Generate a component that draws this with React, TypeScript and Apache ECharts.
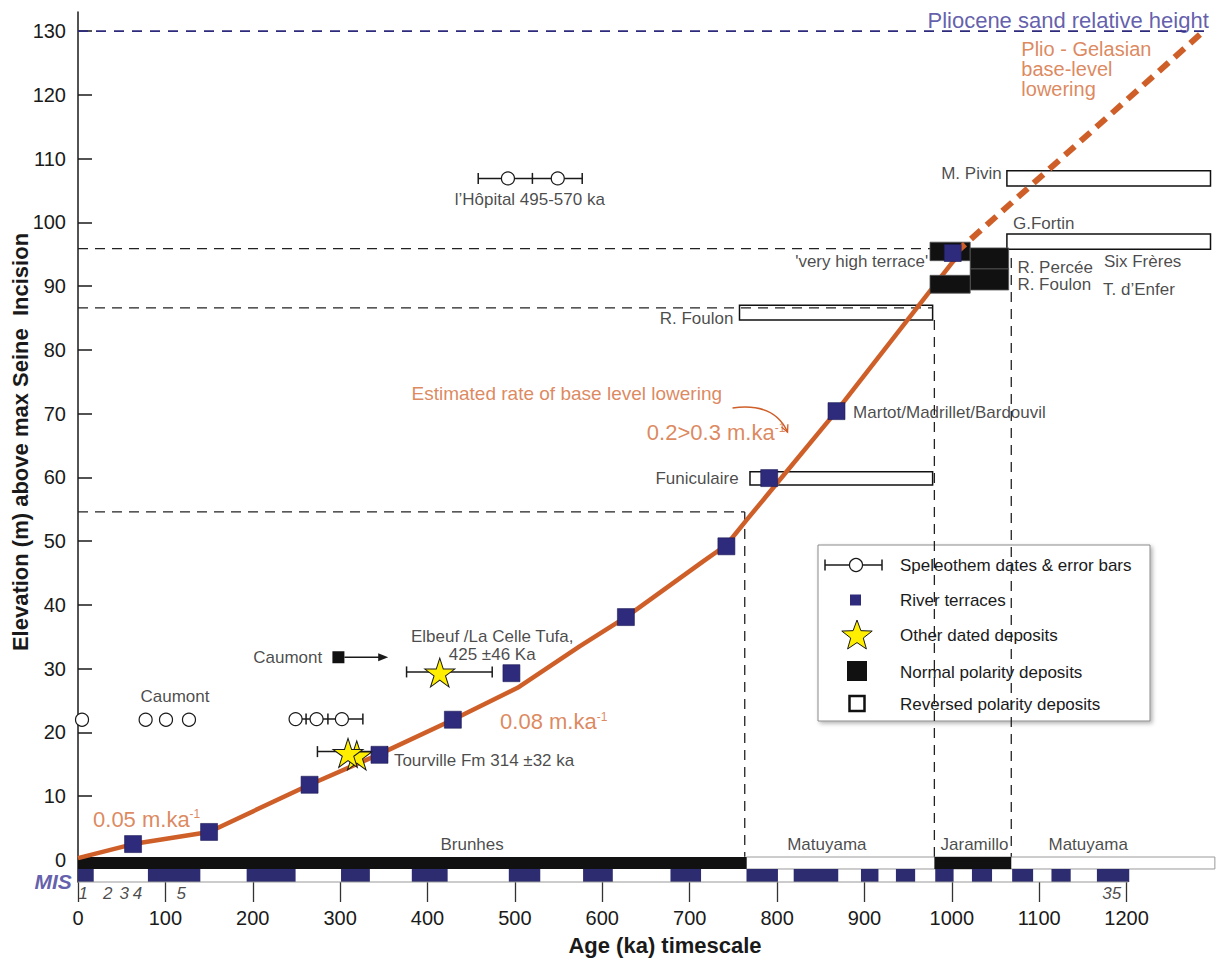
import React, { useEffect, useRef } from 'react';
import * as echarts from 'echarts';

const FONT = '"Liberation Sans", Arial, Helvetica, sans-serif';
const ORANGE = '#cf5f29';
const ORANGE_TEXT = '#d46a36';
const NAVY = '#2e2a7c';
const NAVY_TEXT = '#3b3696';
const INK = '#1a1a1a';

const xTickValues = [0, 100, 200, 300, 400, 500, 600, 700, 800, 900, 1000, 1100, 1200];
const yTickValues = [0, 10, 20, 30, 40, 50, 60, 70, 80, 90, 100, 110, 120, 130];

// River terraces (age ka, elevation m)
const terraceAge = [63, 150, 265, 345, 429, 496, 627, 742, 791, 868, 1001];
const terraceElev = [2.5, 4.4, 11.8, 16.5, 22.0, 29.3, 38.1, 49.2, 59.9, 70.4, 95.2];

// Estimated base-level lowering curve
const rateLineAge = [0, 63, 150, 265, 345, 429, 503, 574, 627, 715, 742, 765, 868, 1001, 1006];
const rateLineElev = [0.3, 2.5, 4.4, 11.8, 16.6, 22.0, 27.0, 33.5, 38.1, 46.8, 49.4, 53.3, 70.4, 93.8, 94.6];

// Plio-Gelasian lowering (dashed)
const plioLineAge = [1004, 1285];
const plioLineElev = [95.2, 129.6];

// Pliocene sand relative height
const pliocenePlaneAge = [0, 1290];
const pliocenePlaneElev = [130, 130];

// Speleothem dates
const speleoAge = [4.6, 77.4, 100.7, 127, 249, 273, 302, 492, 549];
const speleoElev = [22, 22, 22, 22, 22.1, 22.1, 22.1, 106.9, 106.9];
// error bars [from, to, elevation]
const speleoBars = [[249, 326, 22.1], [458, 577, 106.9]];
const speleoInnerTicks = [[261, 22.1], [286, 22.1], [520, 106.9]];

// Other dated deposits (stars)
const starAge = [319, 309, 414];
const starElev = [16.4, 16.8, 29.4];
const starBars = [[274, 354, 17.0], [376, 474, 29.5]];

// Caumont normal polarity deposit + arrow
const caumontAge = [298];
const caumontElev = [31.8];
const caumontArrow = [[298, 355, 31.8]];

// Polarity deposits boxes [age0, age1, elev0, elev1]
const reversedBoxes = [
  [757, 978, 84.7, 87.0],
  [769, 978, 58.8, 60.9],
  [1063, 1296, 105.7, 108.1],
  [1063, 1296, 95.8, 98.2],
];
const normalBoxes = [
  [975, 1021, 94.0, 96.9],
  [1021, 1065, 92.7, 96.0],
  [1021, 1065, 89.4, 92.7],
  [975, 1021, 88.9, 91.7],
];

// dashed guide lines [x1, y1, x2, y2]
const guideSegments = [
  [0, 95.9, 975, 95.9],
  [0, 86.6, 978, 86.6],
  [0, 54.6, 763, 54.6],
  [763, 54.6, 763, 0.5],
  [980, 84.7, 980, 0.5],
  [1068, 94.4, 1068, 0.5],
];

// Palaeomagnetic chrons
const normalChrons = [[0, 765], [980, 1068]];
const reversedChrons = [[765, 1301]];
const chronTop = 0.47;
const chronBottom = -1.41;
const chronLabels = [['Brunhes', 451, 2.4], ['Matuyama', 857, 2.4], ['Jaramillo', 1026, 2.4], ['Matuyama', 1156, 2.4]];

// Marine isotope stages (interglacials)
const misStart = [0, 80, 193, 301, 382, 493, 578, 678, 765, 819, 896, 936, 981, 1023, 1069, 1114, 1166];
const misEnd = [18, 140, 249, 334, 423, 529, 612, 713, 801, 870, 916, 958, 1002, 1046, 1093, 1136, 1203];
const misTop = -1.41;
const misBottom = -3.45;
const misLabels = [['1', 6, -5.2], ['2', 34, -5.2], ['3', 53, -5.2], ['4', 68, -5.2], ['5', 118, -5.2], ['35', 1183, -5.2]];

// Annotations [text, age, elev, align]
const blackLabels = [
  ['l’Hôpital 495-570 ka', 517, 103.6, 'center'],
  ['Elbeuf /La Celle Tufa,\n425 ±46 Ka', 474, 33.6, 'center'],
  ['Caumont', 279.5, 31.8, 'right'],
  ['Caumont', 111, 25.6, 'center'],
  ['Tourville Fm 314 ±32 ka', 361.5, 15.6, 'left'],
  ['Martot/Madrillet/Bardouvil', 887, 70.2, 'left'],
  ['Funiculaire', 756, 59.9, 'right'],
  ['R. Foulon', 750, 84.9, 'right'],
  ['M. Pivin', 1057, 107.7, 'right'],
  ['G.Fortin', 1070, 99.8, 'left'],
  ["'very high terrace'", 973, 93.8, 'right'],
  ['R. Percée', 1075, 93.0, 'left'],
  ['R. Foulon', 1075, 90.2, 'left'],
  ['Six Frères', 1174, 93.8, 'left'],
  ['T. d’Enfer', 1173, 89.4, 'left'],
];
const rateLabels = [
  ['0.05 m.ka{s|-1}', 17.2, 6.4, 'left'],
  ['0.08 m.ka{s|-1}', 483, 21.7, 'left'],
  ['0.2>0.3 m.ka{s|-1}', 651, 67.0, 'left'],
];
const estimatedLabel = [['Estimated rate of base level lowering', 737, 73.1, 'right']];
const plioLabel = [['Plio - Gelasian\nbase-level\nlowering', 1079.5, 124.0, 'left']];
const plioceneLabel = [['Pliocene sand relative height', 1294, 131.6, 'right']];
const misTitle = [['MIS', -7, -3.3, 'right']];
const curveArrow = [[749, 70.9, 797, 71.8, 812, 67.1]];

const STAR = 'path://M50 0 L61.2 34.5 L97.6 34.5 L68.2 55.9 L79.4 90.5 L50 69.1 L20.6 90.5 L31.8 55.9 L2.4 34.5 L38.8 34.5 Z';

function textLayer(name: string, items: any[][], style: any, z = 20) {
  return {
    type: 'scatter', name, silent: true, clip: false, z,
    symbolSize: 0, itemStyle: { color: 'rgba(0,0,0,0)' },
    data: items.map((it) => ({ value: [it[1], it[2]], label: { formatter: it[0], align: it[3] || 'center' } })),
    label: { show: true, position: 'inside', verticalAlign: 'middle', fontFamily: FONT, ...style },
    emphasis: { disabled: true },
  };
}

function rectLayer(name: string, boxes: number[][], style: any, z: number) {
  return {
    type: 'custom', name, silent: true, z, clip: false,
    data: boxes,
    encode: { x: [0, 1], y: [2, 3] },
    renderItem: (_p: any, api: any) => {
      const a = api.coord([api.value(0), api.value(3)]);
      const b = api.coord([api.value(1), api.value(2)]);
      return { type: 'rect', shape: { x: a[0], y: a[1], width: b[0] - a[0], height: b[1] - a[1] }, style };
    },
  };
}

function segLayer(name: string, segs: number[][], style: any, z: number) {
  return {
    type: 'custom', name, silent: true, z, clip: false,
    data: segs,
    encode: { x: [0, 2], y: [1, 3] },
    renderItem: (_p: any, api: any) => {
      const a = api.coord([api.value(0), api.value(1)]);
      const b = api.coord([api.value(2), api.value(3)]);
      return { type: 'line', shape: { x1: a[0], y1: a[1], x2: b[0], y2: b[1] }, style };
    },
  };
}

function errorBarLayer(name: string, bars: number[][], z: number) {
  const st = { stroke: INK, lineWidth: 1.5 };
  return {
    type: 'custom', name, silent: true, z, clip: false,
    data: bars,
    encode: { x: [0, 1], y: 2 },
    renderItem: (_p: any, api: any) => {
      const a = api.coord([api.value(0), api.value(2)]);
      const b = api.coord([api.value(1), api.value(2)]);
      const h = 5.5;
      return {
        type: 'group', children: [
          { type: 'line', shape: { x1: a[0], y1: a[1], x2: b[0], y2: b[1] }, style: st },
          { type: 'line', shape: { x1: a[0], y1: a[1] - h, x2: a[0], y2: a[1] + h }, style: st },
          { type: 'line', shape: { x1: b[0], y1: b[1] - h, x2: b[0], y2: b[1] + h }, style: st },
        ],
      };
    },
  };
}

function starPoints(cx: number, cy: number, R: number, r: number) {
  const pts: number[][] = [];
  for (let i = 0; i < 10; i++) {
    const ang = -Math.PI / 2 + (i * Math.PI) / 5;
    const rad = i % 2 === 0 ? R : r;
    pts.push([cx + rad * Math.cos(ang), cy + rad * Math.sin(ang)]);
  }
  return pts;
}

const legendItems = [
  'Speleothem dates & error bars',
  'River terraces',
  'Other dated deposits',
  'Normal polarity deposits',
  'Reversed polarity deposits',
];

function buildOption() {
  const legendBox = { x: 818, y: 545, w: 332, h: 176 };
  const rowY = [565, 600, 635, 672, 704];
  const legend = {
    type: 'group', silent: true, z: 50,
    children: [
      { type: 'rect', shape: { x: legendBox.x, y: legendBox.y, width: legendBox.w, height: legendBox.h },
        style: { fill: '#fff', stroke: '#8a8a8a', lineWidth: 1, shadowBlur: 4, shadowOffsetX: 2, shadowOffsetY: 2, shadowColor: 'rgba(0,0,0,0.3)' } },
      { type: 'line', shape: { x1: 825, y1: rowY[0], x2: 882, y2: rowY[0] }, style: { stroke: INK, lineWidth: 1.5 } },
      { type: 'line', shape: { x1: 825, y1: rowY[0] - 5.5, x2: 825, y2: rowY[0] + 5.5 }, style: { stroke: INK, lineWidth: 1.5 } },
      { type: 'line', shape: { x1: 882, y1: rowY[0] - 5.5, x2: 882, y2: rowY[0] + 5.5 }, style: { stroke: INK, lineWidth: 1.5 } },
      { type: 'circle', shape: { cx: 856, cy: rowY[0], r: 6.5 }, style: { fill: '#fff', stroke: INK, lineWidth: 1.2 } },
      { type: 'rect', shape: { x: 850, y: rowY[1] - 5.5, width: 11, height: 11 }, style: { fill: NAVY } },
      { type: 'polygon', shape: { points: starPoints(857, rowY[2] + 1, 16, 6.6) }, style: { fill: '#ffee00', stroke: INK, lineWidth: 1 } },
      { type: 'rect', shape: { x: 847, y: rowY[3] - 11, width: 20, height: 20 }, style: { fill: '#111' } },
      { type: 'rect', shape: { x: 849.5, y: rowY[4] - 8, width: 15, height: 15 }, style: { fill: '#fff', stroke: '#111', lineWidth: 2.5 } },
      ...legendItems.map((t, i) => ({
        type: 'text', x: 900, y: rowY[i],
        style: { text: t, fill: INK, font: `17px ${FONT}`, textAlign: 'left', textVerticalAlign: 'middle' },
      })),
    ],
  };

  return {
    animation: false,
    backgroundColor: '#fff',
    grid: { left: 78, right: 3, top: 12, bottom: 81, containLabel: false, outerBoundsMode: 'none' },
    xAxis: {
      type: 'value', min: 0, max: 1300,
      axisLine: { show: false, onZero: false },
      axisTick: { show: true, customValues: xTickValues, length: 20, lineStyle: { color: '#333', width: 1.3 } },
      axisLabel: { customValues: xTickValues, fontSize: 20, color: INK, margin: 26, fontFamily: FONT, formatter: (v: number) => String(v) },
      splitLine: { show: false },
    },
    yAxis: {
      type: 'value', min: -3.45, max: 133,
      axisLine: { show: true, onZero: false, lineStyle: { color: INK, width: 1.5 } },
      axisTick: { show: true, inside: true, customValues: yTickValues, length: 14, lineStyle: { color: INK, width: 1.5 } },
      axisLabel: { customValues: yTickValues, fontSize: 20, color: INK, margin: 12, fontFamily: FONT, formatter: (v: number) => String(v) },
      splitLine: { show: false },
    },
    series: [
      rectLayer('reversedChrons', reversedChrons.map((c) => [c[0], c[1], chronBottom, chronTop]), { fill: '#fff', stroke: '#9a9a9a', lineWidth: 1 }, 1),
      rectLayer('normalChrons', normalChrons.map((c) => [c[0], c[1], chronBottom, chronTop]), { fill: '#111' }, 2),
      rectLayer('mis', misStart.map((s, i) => [s, misEnd[i], misBottom, misTop]), { fill: '#2d2c70' }, 2),
      segLayer('misBase', [[0, misBottom, 1202, misBottom]], { stroke: '#999', lineWidth: 1 }, 2),
      rectLayer('reversedBoxes', reversedBoxes, { fill: '#fff', stroke: '#111', lineWidth: 1.5 }, 2),
      segLayer('guides', guideSegments, { stroke: '#222', lineWidth: 1.3, lineDash: [10, 7] }, 3),
      {
        type: 'line', name: 'pliocene', silent: true, z: 3, symbol: 'none',
        data: pliocenePlaneAge.map((a, i) => [a, pliocenePlaneElev[i]]),
        lineStyle: { color: NAVY, width: 1.6, type: [10, 8] },
      },
      {
        type: 'line', name: 'rate', silent: true, z: 4, symbol: 'none', smooth: false,
        data: rateLineAge.map((a, i) => [a, rateLineElev[i]]),
        lineStyle: { color: ORANGE, width: 4.5 },
      },
      rectLayer('normalBoxes', normalBoxes, { fill: '#111', stroke: '#555', lineWidth: 0.8 }, 5),
      {
        type: 'line', name: 'plio', silent: true, z: 6, symbol: 'none',
        data: plioLineAge.map((a, i) => [a, plioLineElev[i]]),
        lineStyle: { color: ORANGE, width: 6, type: [13, 8], cap: 'butt' },
      },
      errorBarLayer('speleoBars', speleoBars, 7),
      errorBarLayer('starBars', starBars, 7),
      {
        type: 'custom', name: 'innerTicks', silent: true, z: 7, clip: false,
        data: speleoInnerTicks, encode: { x: 0, y: 1 },
        renderItem: (_p: any, api: any) => {
          const a = api.coord([api.value(0), api.value(1)]);
          return { type: 'line', shape: { x1: a[0], y1: a[1] - 5.5, x2: a[0], y2: a[1] + 5.5 }, style: { stroke: INK, lineWidth: 1.5 } };
        },
      },
      {
        type: 'custom', name: 'caumontArrow', silent: true, z: 7, clip: false,
        data: caumontArrow, encode: { x: [0, 1], y: 2 },
        renderItem: (_p: any, api: any) => {
          const a = api.coord([api.value(0), api.value(2)]);
          const b = api.coord([api.value(1), api.value(2)]);
          return {
            type: 'group', children: [
              { type: 'line', shape: { x1: a[0] + 6, y1: a[1], x2: b[0] - 8, y2: b[1] }, style: { stroke: INK, lineWidth: 1.5 } },
              { type: 'polygon', shape: { points: [[b[0], b[1]], [b[0] - 10, b[1] - 4], [b[0] - 10, b[1] + 4]] }, style: { fill: INK } },
            ],
          };
        },
      },
      {
        type: 'custom', name: 'curveArrow', silent: true, z: 7, clip: false,
        data: curveArrow, encode: { x: [0, 2, 4], y: [1, 3, 5] },
        renderItem: (_p: any, api: any) => {
          const s = api.coord([api.value(0), api.value(1)]);
          const c = api.coord([api.value(2), api.value(3)]);
          const e = api.coord([api.value(4), api.value(5)]);
          const dx = e[0] - c[0];
          const dy = e[1] - c[1];
          const len = Math.sqrt(dx * dx + dy * dy);
          const ux = dx / len;
          const uy = dy / len;
          const rot = (ang: number) => [ux * Math.cos(ang) - uy * Math.sin(ang), ux * Math.sin(ang) + uy * Math.cos(ang)];
          const l = rot(0.45);
          const r = rot(-0.45);
          return {
            type: 'group', children: [
              { type: 'bezierCurve', shape: { x1: s[0], y1: s[1], cpx1: c[0], cpy1: c[1], x2: e[0], y2: e[1] }, style: { stroke: ORANGE, lineWidth: 1.5, fill: null } },
              { type: 'polyline', shape: { points: [[e[0] - l[0] * 8, e[1] - l[1] * 8], [e[0], e[1]], [e[0] - r[0] * 8, e[1] - r[1] * 8]] }, style: { stroke: ORANGE, lineWidth: 1.3, fill: null } },
            ],
          };
        },
      },
      {
        type: 'scatter', name: 'River terraces', silent: true, z: 8, symbol: 'rect', symbolSize: 17,
        data: terraceAge.map((a, i) => [a, terraceElev[i]]),
        itemStyle: { color: NAVY, borderColor: '#1d1b55', borderWidth: 0.6, opacity: 1 },
      },
      {
        type: 'scatter', name: 'Speleothem', silent: true, z: 8, symbol: 'circle', symbolSize: 13,
        data: speleoAge.map((a, i) => [a, speleoElev[i]]),
        itemStyle: { color: '#fff', borderColor: INK, borderWidth: 1.2, opacity: 1 },
      },
      {
        type: 'scatter', name: 'Other dated deposits', silent: true, z: 8, symbol: STAR, symbolSize: [30, 29],
        data: starAge.map((a, i) => [a, starElev[i]]),
        itemStyle: { color: '#ffee00', borderColor: INK, borderWidth: 1, opacity: 1 },
      },
      {
        type: 'scatter', name: 'Caumont normal', silent: true, z: 8, symbol: 'rect', symbolSize: 12,
        data: caumontAge.map((a, i) => [a, caumontElev[i]]),
        itemStyle: { color: '#111', opacity: 1 },
      },
      textLayer('blackLabels', blackLabels, { fontSize: 17, color: INK, lineHeight: 18 }),
      textLayer('chronLabels', chronLabels, { fontSize: 17, color: INK }),
      textLayer('misLabels', misLabels, { fontSize: 17, color: INK, fontStyle: 'italic' }),
      textLayer('misTitle', misTitle, { fontSize: 21, color: NAVY_TEXT, fontStyle: 'italic', fontWeight: 'bold' }),
      textLayer('rateLabels', rateLabels, {
        fontSize: 22, color: ORANGE_TEXT, lineHeight: 22,
        rich: { s: { fontSize: 12, color: ORANGE_TEXT, verticalAlign: 'top', lineHeight: 12, fontFamily: FONT } },
      }),
      textLayer('estimated', estimatedLabel, { fontSize: 19, color: ORANGE_TEXT }),
      textLayer('plioLabel', plioLabel, { fontSize: 20, color: ORANGE_TEXT, lineHeight: 20 }),
      textLayer('plioceneLabel', plioceneLabel, { fontSize: 22, color: NAVY_TEXT }),
    ],
    graphic: [
      {
        type: 'text', x: 20, y: 442, rotation: Math.PI / 2, silent: true,
        style: { text: 'Elevation (m) above max Seine  Incision', fill: INK, font: `bold 22px ${FONT}`, textAlign: 'center', textVerticalAlign: 'middle' },
      },
      {
        type: 'text', x: 665, y: 945, silent: true,
        style: { text: 'Age (ka) timescale', fill: INK, font: `bold 22px ${FONT}`, textAlign: 'center', textVerticalAlign: 'middle' },
      },
      legend,
    ],
  };
}

export default function App() {
  const ref = useRef<HTMLDivElement>(null);
  useEffect(() => {
    const chart = echarts.init(ref.current as HTMLDivElement, null, { renderer: 'svg' });
    chart.setOption(buildOption() as any);
    return () => chart.dispose();
  }, []);
  return <div ref={ref} style={{ position: 'fixed', left: 0, top: 0, width: 1217, height: 963, background: '#fff' }} />;
}
